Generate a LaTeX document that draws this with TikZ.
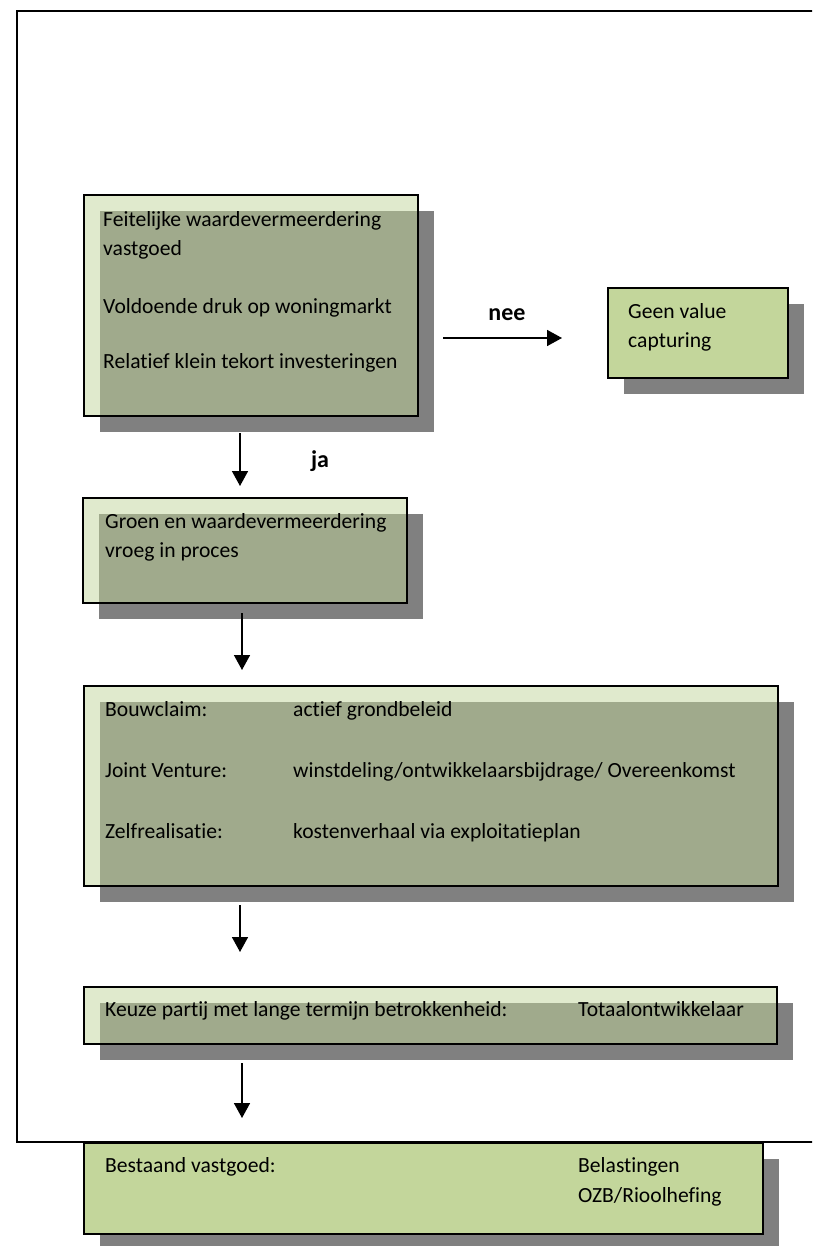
\documentclass[tikz,border=0pt]{standalone}
\usepackage{fontspec}
\setmainfont[Ligatures={NoCommon}]{Carlito}
\usetikzlibrary{arrows.meta}
\definecolor{lightg}{HTML}{E0EACD}
\definecolor{overg}{HTML}{A0AA8C}
\definecolor{shadowg}{HTML}{808080}
\definecolor{boxg}{HTML}{C3D69B}
\tikzset{
  frameline/.style={draw=black, line width=1.6pt},
  boxline/.style={draw=black, line width=1.8pt},
  arr/.style={line width=1.6pt, -{Triangle[length=15pt,width=16pt]}},
  txt/.style={anchor=west, inner sep=0pt, text height=15pt, text depth=5pt, font=\fontsize{21.6}{29}\selectfont},
  lbl/.style={anchor=center, inner sep=0pt, text height=15pt, text depth=5pt, font=\fontsize{24}{29}\selectfont\bfseries},
  plainbox/.style={inner sep=0pt, outer sep=0pt, anchor=north west},
}
\newcommand\ovbox[5]{%
  \node[plainbox, fill=lightg, minimum width=#4pt, minimum height=#5pt] (#1) at (#2,#3) {};
  \fill[shadowg] ([shift={(16pt,-16pt)}]#1.north west) rectangle ([shift={(16pt,-16pt)}]#1.south east);
  \fill[overg] ([shift={(16pt,-16pt)}]#1.north west) rectangle (#1.south east);
}
\newcommand\solidbox[5]{%
  \fill[shadowg] ({#2+16},{#3+16}) rectangle ({#2+#4+16},{#3+#5+16});
  \node[plainbox, boxline, fill=boxg, minimum width=#4pt, minimum height=#5pt] (#1) at (#2,#3) {};
}
\begin{document}
\begin{tikzpicture}[x=1pt,y=-1pt]
\useasboundingbox (0,0) rectangle (812,1246);
\clip (0,0) rectangle (812,1246);
\fill[white] (0,0) rectangle (812,1246);
% outer frame
\draw[frameline] (17,11) rectangle (840,1142);

% box 1
\ovbox{b1}{84}{195}{334}{221}
\node[txt] (t1a) at (103,222) {Feitelijke waardevermeerdering};
\node[txt] (t1b) at (103,251) {vastgoed};
\node[txt] (t1c) at (103,308) {Voldoende druk op woningmarkt};
\node[txt] (t1d) at (103,363) {Relatief klein tekort investeringen};
\draw[boxline] (b1.north west) rectangle (b1.south east);

% geen value capturing
\solidbox{g}{608}{288}{180}{90}
\node[txt] (tga) at (628,313) {Geen value};
\node[txt] (tgb) at (628,342) {capturing};

% nee arrow
\coordinate (neeS) at (443,338);
\coordinate (neeE) at (562,338);
\draw[arr] (neeS) -- (neeE);
\node[lbl] (nee) at (507,315) {nee};

% ja arrow
\coordinate (a1s) at (240,433);
\coordinate (a1e) at (240,486);
\draw[arr] (a1s) -- (a1e);
\node[lbl] (ja) at (320,462) {ja};

% box 2
\ovbox{b2}{83}{498}{324}{105}
\node[txt] (t2a) at (105,523) {Groen en waardevermeerdering};
\node[txt] (t2b) at (105,552) {vroeg in proces};
\draw[boxline] (b2.north west) rectangle (b2.south east);

\coordinate (a2s) at (242,613);
\coordinate (a2e) at (242,670);
\draw[arr] (a2s) -- (a2e);

% box 3
\ovbox{b3}{84}{686}{694}{200}
\node[txt] (t3a) at (105,711) {Bouwclaim:};
\node[txt] (t3b) at (293,711) {actief grondbeleid};
\node[txt] (t3c) at (105,772) {Joint Venture:};
\node[txt] (t3d) at (293,772) {winstdeling/ontwikkelaarsbijdrage/ Overeenkomst};
\node[txt] (t3e) at (105,833) {Zelfrealisatie:};
\node[txt] (t3f) at (293,833) {kostenverhaal via exploitatieplan};
\draw[boxline] (b3.north west) rectangle (b3.south east);

\coordinate (a3s) at (240,905);
\coordinate (a3e) at (240,952);
\draw[arr] (a3s) -- (a3e);

% box 4
\ovbox{b4}{84}{987}{693}{57}
\node[txt] (t4a) at (105,1011) {Keuze partij met lange termijn betrokkenheid:};
\node[txt] (t4b) at (578,1011) {Totaalontwikkelaar};
\draw[boxline] (b4.north west) rectangle (b4.south east);

\coordinate (a4s) at (242,1063);
\coordinate (a4e) at (242,1118);
\draw[arr] (a4s) -- (a4e);

% bestaand vastgoed
\solidbox{b5}{84}{1143}{679}{91}
\node[txt] (t5a) at (105,1167) {Bestaand vastgoed:};
\node[txt] (t5b) at (578,1167) {Belastingen};
\node[txt] (t5c) at (578,1197) {OZB/Rioolhefing};
\end{tikzpicture}
\end{document}
